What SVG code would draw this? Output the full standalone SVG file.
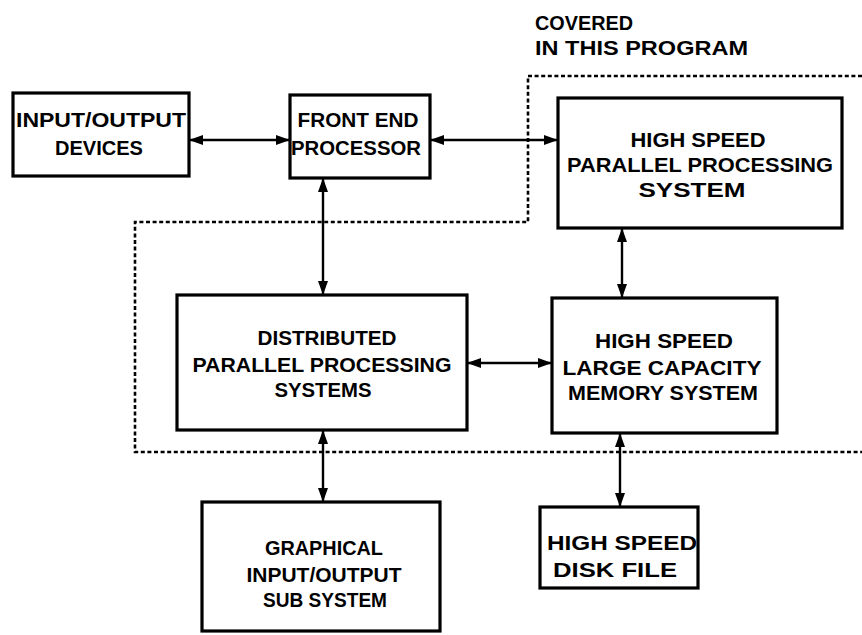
<svg xmlns="http://www.w3.org/2000/svg" width="862" height="635" viewBox="0 0 862 635">
  <style>
    .box { fill: #fff; stroke: #000; stroke-width: 3.2; }
    .lbl { font-family: "Liberation Sans", Arial, sans-serif; font-weight: bold; font-size: 21px; fill: #000; text-anchor: middle; }
    .note { font-family: "Liberation Sans", Arial, sans-serif; font-weight: bold; font-size: 20px; fill: #000; }
    .link { fill: none; stroke: #000; stroke-width: 2.4; marker-start: url(#head); marker-end: url(#head); }
    .bound { fill: none; stroke: #000; stroke-width: 2.6; stroke-dasharray: 4 2.6; }
  </style>
  <defs>
    <marker id="head" markerUnits="userSpaceOnUse" markerWidth="15" markerHeight="12" refX="14" refY="6" orient="auto-start-reverse">
      <path d="M0,1 L14,6 L0,11 z" fill="#000"/>
    </marker>
  </defs>

  <rect width="862" height="635" fill="#fff"/>

  <!-- program boundary -->
  <g id="boundary">
    <path class="bound" d="M862,76 H528 V222 H135 V452 H862"/>
    <text class="note" x="535" y="30" textLength="98" lengthAdjust="spacingAndGlyphs">COVERED</text>
    <text class="note" x="535" y="55" textLength="213" lengthAdjust="spacingAndGlyphs">IN THIS PROGRAM</text>
  </g>

  <!-- connectors -->
  <g id="connectors">
    <line class="link" x1="189" y1="140" x2="290" y2="140"/>
    <line class="link" x1="430" y1="140" x2="558" y2="140"/>
    <line class="link" x1="323" y1="178" x2="323" y2="295"/>
    <line class="link" x1="622" y1="228" x2="622" y2="298"/>
    <line class="link" x1="467" y1="363" x2="552" y2="363"/>
    <line class="link" x1="323" y1="430" x2="323" y2="502"/>
    <line class="link" x1="620" y1="433" x2="620" y2="507"/>
  </g>

  <g id="io-devices">
    <rect class="box" x="13" y="93" width="176" height="83"/>
    <text class="lbl" x="101" y="127" textLength="170" lengthAdjust="spacingAndGlyphs">INPUT/OUTPUT</text>
    <text class="lbl" x="99" y="155" textLength="88" lengthAdjust="spacingAndGlyphs">DEVICES</text>
  </g>

  <g id="front-end">
    <rect class="box" x="290" y="95" width="140" height="83"/>
    <text class="lbl" x="358" y="127" textLength="121" lengthAdjust="spacingAndGlyphs">FRONT END</text>
    <text class="lbl" x="356" y="155" textLength="130" lengthAdjust="spacingAndGlyphs">PROCESSOR</text>
  </g>

  <g id="hs-parallel">
    <rect class="box" x="558" y="98" width="284" height="130"/>
    <text class="lbl" x="698" y="147" textLength="135" lengthAdjust="spacingAndGlyphs">HIGH SPEED</text>
    <text class="lbl" x="700" y="172" textLength="266" lengthAdjust="spacingAndGlyphs">PARALLEL PROCESSING</text>
    <text class="lbl" x="692" y="197" textLength="107" lengthAdjust="spacingAndGlyphs">SYSTEM</text>
  </g>

  <g id="distributed">
    <rect class="box" x="177" y="295" width="290" height="135"/>
    <text class="lbl" x="327" y="345" textLength="139" lengthAdjust="spacingAndGlyphs">DISTRIBUTED</text>
    <text class="lbl" x="322" y="372" textLength="259" lengthAdjust="spacingAndGlyphs">PARALLEL PROCESSING</text>
    <text class="lbl" x="323" y="397" textLength="97" lengthAdjust="spacingAndGlyphs">SYSTEMS</text>
  </g>

  <g id="memory">
    <rect class="box" x="552" y="298" width="225" height="135"/>
    <text class="lbl" x="664" y="348" textLength="138" lengthAdjust="spacingAndGlyphs">HIGH SPEED</text>
    <text class="lbl" x="662" y="375" textLength="199" lengthAdjust="spacingAndGlyphs">LARGE CAPACITY</text>
    <text class="lbl" x="663" y="400" textLength="190" lengthAdjust="spacingAndGlyphs">MEMORY SYSTEM</text>
  </g>

  <g id="graphical">
    <rect class="box" x="202" y="502" width="238" height="129"/>
    <text class="lbl" x="324" y="555" textLength="118" lengthAdjust="spacingAndGlyphs">GRAPHICAL</text>
    <text class="lbl" x="324" y="582" textLength="155" lengthAdjust="spacingAndGlyphs">INPUT/OUTPUT</text>
    <text class="lbl" x="325" y="607" textLength="124" lengthAdjust="spacingAndGlyphs">SUB SYSTEM</text>
  </g>

  <g id="disk">
    <rect class="box" x="540" y="507" width="158" height="81"/>
    <text class="lbl" x="622" y="550" textLength="150" lengthAdjust="spacingAndGlyphs">HIGH SPEED</text>
    <text class="lbl" x="615" y="577" textLength="124" lengthAdjust="spacingAndGlyphs">DISK FILE</text>
  </g>
</svg>
